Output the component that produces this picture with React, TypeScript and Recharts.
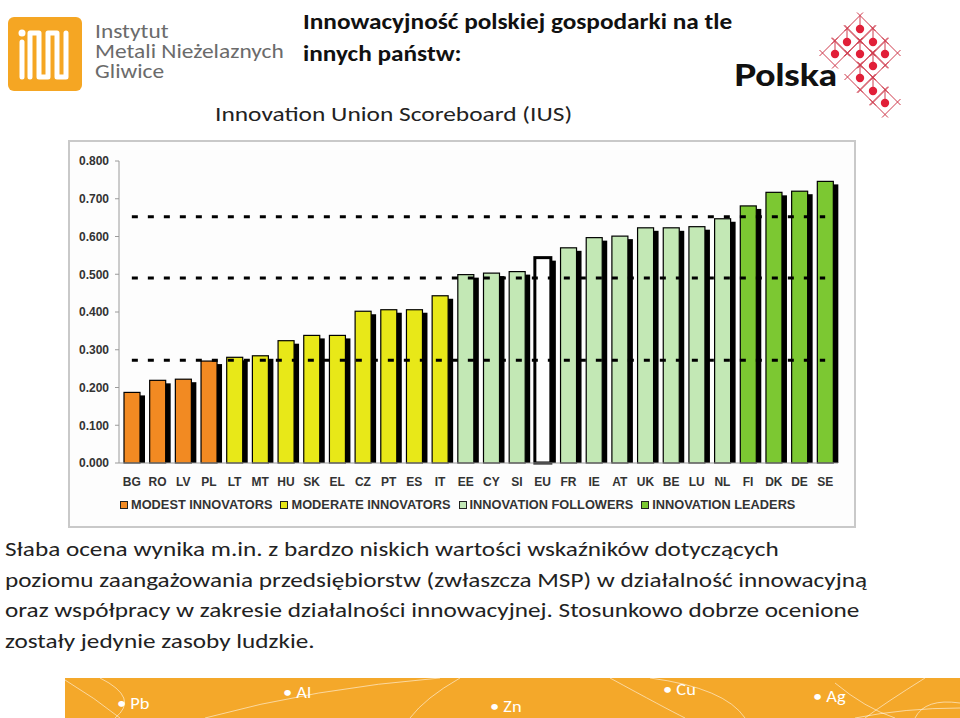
import { BarChart, Bar, XAxis, YAxis, ReferenceLine, Legend } from "recharts";

const countries = [
  "BG", "RO", "LV", "PL", "LT", "MT", "HU", "SK", "EL", "CZ", "PT", "ES", "IT",
  "EE", "CY", "SI", "EU", "FR", "IE", "AT", "UK", "BE", "LU", "NL", "FI", "DK", "DE", "SE",
];
const scores = [
  0.187, 0.219, 0.222, 0.270, 0.280, 0.284, 0.324, 0.338, 0.338, 0.402, 0.406, 0.406, 0.443,
  0.499, 0.503, 0.507, 0.544, 0.570, 0.597, 0.601, 0.623, 0.623, 0.626, 0.647, 0.681, 0.717, 0.720, 0.746,
];
// 0 modest, 1 moderate, 2 followers, 3 leaders, 4 EU average
const groups = [0, 0, 0, 0, 1, 1, 1, 1, 1, 1, 1, 1, 1, 2, 2, 2, 4, 2, 2, 2, 2, 2, 2, 2, 3, 3, 3, 3];
const groupNames = ["MODEST INNOVATORS", "MODERATE INNOVATORS", "INNOVATION FOLLOWERS", "INNOVATION LEADERS"];
const groupColors = ["#f28a22", "#e8e818", "#c3e8b5", "#7cc832", "#ffffff"];
const thresholds = [0.652, 0.49, 0.272];
const yTicks = [0, 0.1, 0.2, 0.3, 0.4, 0.5, 0.6, 0.7, 0.8];

const paragraph = [
  "Słaba ocena wynika m.in. z bardzo niskich wartości wskaźników dotyczących",
  "poziomu zaangażowania przedsiębiorstw (zwłaszcza MSP) w działalność innowacyjną",
  "oraz współpracy w zakresie działalności innowacyjnej. Stosunkowo dobrze ocenione",
  "zostały jedynie zasoby ludzkie.",
];
const metals = ["Pb", "Al", "Zn", "Cu", "Ag"];

const data = countries.map((c, i) => ({ country: c, score: scores[i], group: groups[i] }));

const calibri = "Carlito, Lato, 'Open Sans', sans-serif";
const arial = "'Liberation Sans', Arial, sans-serif";

// the slide is stretched sideways, so the text is too
const stretch = (s: number) => ({ transform: `scaleX(${s})`, transformOrigin: "0 0" });

function ShadowBar(props: any) {
  const { x, y, width, height, payload } = props;
  if (!height) return null;
  const eu = payload.group === 4;
  return (
    <g>
      <rect x={x + 5} y={y + 3} width={width} height={height - 3} fill="#000" />
      <rect
        x={x}
        y={y}
        width={width}
        height={height}
        fill={groupColors[payload.group]}
        stroke="#000"
        strokeWidth={eu ? 3 : 1.2}
      />
    </g>
  );
}

function GroupLegend() {
  return (
    <div style={{ display: "flex", paddingLeft: 52, paddingTop: 9, height: 31, fontFamily: arial, fontSize: 12.8, lineHeight: "15px", fontWeight: "bold", color: "#333" }}>
      {groupNames.map((g, i) => (
        <div key={g} style={{ display: "flex", alignItems: "center", height: 15, marginRight: 8 }}>
          <span style={{ width: 6, height: 6, border: "1.5px solid #222", background: groupColors[i], marginRight: 3 }} />
          {g}
        </div>
      ))}
    </div>
  );
}

function PolskaMark() {
  const dots = [
    [860, 28], [847, 41], [873, 41], [835, 53], [860, 53], [885, 53],
    [873, 65], [860, 77], [873, 90], [885, 102],
  ];
  const h = 12.5;
  const e = 3;
  return (
    <svg width={960} height={130} style={{ position: "absolute", left: 0, top: 0 }}>
      {dots.map(([cx, cy], i) => (
        <g key={i} stroke="#cf3a4c" strokeWidth={1}>
          <line x1={cx - e} y1={cy - h - e} x2={cx + h + e} y2={cy + e} />
          <line x1={cx + e} y1={cy - h - e} x2={cx - h - e} y2={cy + e} />
          <line x1={cx - h - e} y1={cy - e} x2={cx + e} y2={cy + h + e} />
          <line x1={cx + h + e} y1={cy - e} x2={cx - e} y2={cy + h + e} />
          <line x1={cx} y1={cy - h} x2={cx} y2={cy} />
          <circle cx={cx} cy={cy + 1} r={4.2} fill="#e11f38" stroke="none" />
        </g>
      ))}
    </svg>
  );
}

export default function App() {
  return (
    <div style={{ position: "absolute", left: 0, top: 0, width: 960, height: 718, overflow: "hidden", background: "#fff" }}>
      {/* IMN logo */}
      <div style={{ position: "absolute", left: 8, top: 17, width: 74, height: 74, borderRadius: 6, background: "#f5a623" }}>
        <svg width={74} height={74}>
          <circle cx={14} cy={16} r={3.5} fill="#fff" />
          <line x1={14} y1={25} x2={14} y2={60} stroke="#fff" strokeWidth={5} strokeLinecap="round" />
          <polyline
            points="22,60 22,16 31,16 31,60 40,60 40,16 49,16 49,60 58,60 58,16"
            fill="none"
            stroke="#fff"
            strokeWidth={5}
            strokeLinejoin="round"
            strokeLinecap="round"
          />
        </svg>
      </div>
      <div style={{ position: "absolute", left: 95, top: 21, fontFamily: calibri, fontSize: 20, lineHeight: "20px", color: "#6b6b6b", ...stretch(1.17) }}>
        <div>Instytut</div>
        <div>Metali Nieżelaznych</div>
        <div>Gliwice</div>
      </div>

      <div style={{ position: "absolute", left: 303, top: 6, fontFamily: calibri, fontWeight: "bold", fontSize: 22, lineHeight: "32px", color: "#111", whiteSpace: "nowrap", ...stretch(1.15) }}>
        <div>Innowacyjność polskiej gospodarki na tle</div>
        <div>innych państw:</div>
      </div>
      <div style={{ position: "absolute", left: 215, top: 101, fontFamily: calibri, fontSize: 21, color: "#222", whiteSpace: "nowrap", ...stretch(1.21) }}>
        Innovation Union Scoreboard (IUS)
      </div>

      <PolskaMark />
      <div style={{ position: "absolute", left: 734, top: 55, fontFamily: "Lato, sans-serif", fontWeight: 900, fontSize: 31, color: "#111", ...stretch(1.13) }}>
        Polska
      </div>

      {/* chart frame */}
      <div style={{ position: "absolute", left: 68, top: 140, width: 788, height: 388, boxSizing: "border-box", border: "2px solid #c9c9c9", background: "#fdfdfd" }} />
      <div style={{ position: "absolute", left: 68, top: 140 }}>
        <BarChart width={788} height={388} data={data} margin={{ top: 21, right: 18, left: 0, bottom: 0 }} barSize={16}>
          <XAxis
            dataKey="country"
            height={25}
            tickLine={false}
            tickMargin={8}
            interval={0}
            stroke="#9a9a9a"
            tick={{ fontFamily: arial, fontSize: 12, fontWeight: "bold", fill: "#333" }}
          />
          <YAxis
            width={51}
            domain={[0, 0.8]}
            ticks={yTicks}
            tickFormatter={(v: number) => v.toFixed(3)}
            tickSize={4}
            tickMargin={6}
            stroke="#9a9a9a"
            tick={{ fontFamily: arial, fontSize: 12, fontWeight: "bold", fill: "#333" }}
          />
          <Legend verticalAlign="bottom" wrapperStyle={{ left: 0, width: 788 }} content={() => <GroupLegend />} />
          <Bar dataKey="score" shape={ShadowBar} isAnimationActive={false} />
          {thresholds.map((t) => (
            <ReferenceLine
              key={t}
              segment={[{ x: "BG", y: t }, { x: "SE", y: t }]}
              stroke="#000"
              strokeWidth={3}
              strokeDasharray="6 10"
            />
          ))}
        </BarChart>
      </div>

      <div style={{ position: "absolute", left: 5, top: 534, fontFamily: calibri, fontSize: 21, lineHeight: "30.7px", color: "#222", whiteSpace: "nowrap", ...stretch(1.2) }}>
        {paragraph.map((l) => (
          <div key={l}>{l}</div>
        ))}
      </div>

      {/* bottom banner */}
      <div style={{ position: "absolute", left: 65, top: 678, width: 895, height: 40, background: "#f4a82a", overflow: "hidden" }}>
        <svg width={895} height={40} style={{ position: "absolute", left: 0, top: 0 }}>
          <g fill="none" stroke="#fff" strokeOpacity={0.55} strokeWidth={1}>
            <path d="M0 2 Q30 20 55 40" />
            <path d="M35 0 Q75 20 50 40" />
            <path d="M140 40 Q250 10 375 0" />
            <path d="M395 0 Q360 20 345 40" />
            <path d="M545 0 Q600 30 620 40" />
            <path d="M585 0 Q660 10 680 40" />
            <path d="M770 5 Q800 30 830 40" />
            <path d="M860 0 Q820 25 800 40" />
            <path d="M895 25 Q860 20 850 40" />
            <path d="M790 40 Q840 30 895 30" />
          </g>
        </svg>
        {metals.map((m, i) => (
          <div
            key={m}
            style={{
              position: "absolute",
              left: [52, 218, 425, 598, 748][i],
              top: [16, 5, 19, 2, 9][i],
              fontFamily: calibri,
              fontSize: 16,
              color: "#fff",
              ...stretch(1.15),
            }}
          >
            • {m}
          </div>
        ))}
      </div>
    </div>
  );
}
